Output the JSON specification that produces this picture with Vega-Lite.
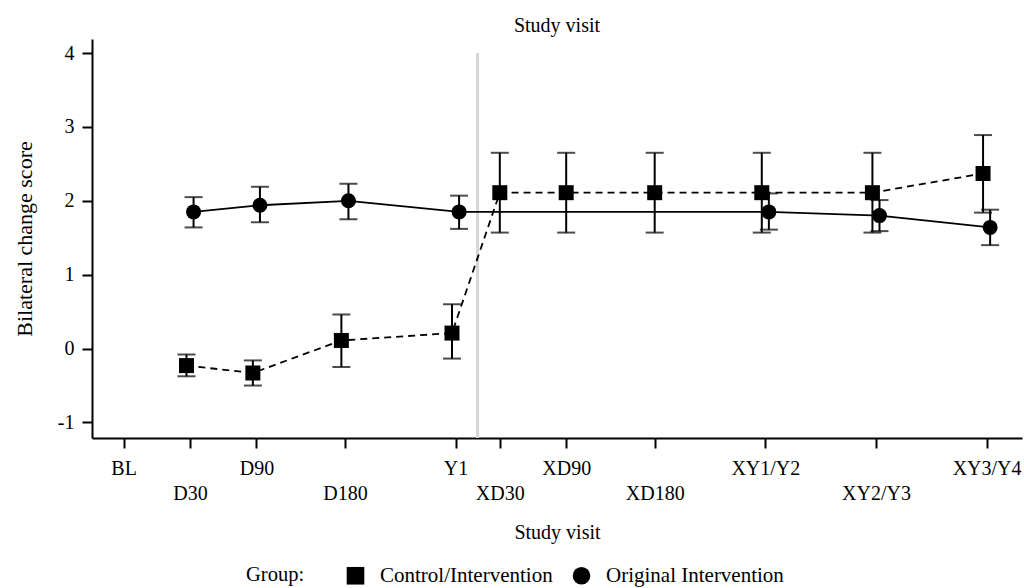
{
  "$schema": "https://vega.github.io/schema/vega-lite/v6.json",
  "autosize": "none",
  "width": 930,
  "height": 399,
  "padding": {"left": 92, "top": 39, "right": 2, "bottom": 150},
  "background": "white",
  "title": {"text": "Study visit", "font": "Liberation Serif", "fontSize": 20, "fontWeight": "normal", "color": "black", "offset": 3, "anchor": "middle"},
  "config": {
    "view": {"stroke": null},
    "axis": {
      "labelFont": "Liberation Serif", "labelFontSize": 20, "labelColor": "black",
      "titleFont": "Liberation Serif", "titleFontSize": 20, "titleFontWeight": "normal", "titleColor": "black",
      "domainColor": "black", "domainWidth": 2, "tickColor": "black", "tickWidth": 2, "tickSize": 10, "grid": false
    },
    "legend": {"labelFont": "Liberation Serif", "titleFont": "Liberation Serif"}
  },
  "data": {
    "values": [
      {"visit": "D30", "t": 3, "group": "Control/Intervention", "mean": -0.23, "lo": -0.375, "hi": -0.08},
      {"visit": "D90", "t": 6, "group": "Control/Intervention", "mean": -0.33, "lo": -0.5, "hi": -0.16},
      {"visit": "D180", "t": 10, "group": "Control/Intervention", "mean": 0.11, "lo": -0.25, "hi": 0.46},
      {"visit": "Y1", "t": 15, "group": "Control/Intervention", "mean": 0.21, "lo": -0.135, "hi": 0.6},
      {"visit": "XD30", "t": 17, "group": "Control/Intervention", "mean": 2.11, "lo": 1.57, "hi": 2.65},
      {"visit": "XD90", "t": 20, "group": "Control/Intervention", "mean": 2.11, "lo": 1.57, "hi": 2.65},
      {"visit": "XD180", "t": 24, "group": "Control/Intervention", "mean": 2.11, "lo": 1.57, "hi": 2.65},
      {"visit": "XY1/Y2", "t": 29, "group": "Control/Intervention", "mean": 2.11, "lo": 1.57, "hi": 2.65},
      {"visit": "XY2/Y3", "t": 34, "group": "Control/Intervention", "mean": 2.11, "lo": 1.57, "hi": 2.65},
      {"visit": "XY3/Y4", "t": 39, "group": "Control/Intervention", "mean": 2.37, "lo": 1.84, "hi": 2.89},
      {"visit": "D30", "t": 3, "group": "Original Intervention", "mean": 1.85, "lo": 1.64, "hi": 2.05},
      {"visit": "D90", "t": 6, "group": "Original Intervention", "mean": 1.94, "lo": 1.71, "hi": 2.19},
      {"visit": "D180", "t": 10, "group": "Original Intervention", "mean": 2.0, "lo": 1.75, "hi": 2.23},
      {"visit": "Y1", "t": 15, "group": "Original Intervention", "mean": 1.85, "lo": 1.62, "hi": 2.07},
      {"visit": "XY1/Y2", "t": 29, "group": "Original Intervention", "mean": 1.85, "lo": 1.61, "hi": 2.1},
      {"visit": "XY2/Y3", "t": 34, "group": "Original Intervention", "mean": 1.8, "lo": 1.59, "hi": 2.01},
      {"visit": "XY3/Y4", "t": 39, "group": "Original Intervention", "mean": 1.64, "lo": 1.4, "hi": 1.88}
    ]
  },
  "transform": [
    {"joinaggregate": [{"op": "count", "as": "n"}], "groupby": ["t"]},
    {"calculate": "datum.t + (datum.n > 1 ? (datum.group == 'Control/Intervention' ? -0.16 : 0.16) : 0)", "as": "xd"}
  ],
  "encoding": {
    "x": {
      "field": "xd", "type": "quantitative",
      "scale": {"domain": [-1.43, 40.6], "nice": false, "zero": false},
      "axis": {
        "title": "Study visit", "titlePadding": 19,
        "values": [0, 3, 6, 10, 15, 17, 20, 24, 29, 34, 39],
        "labelExpr": "{'0': 'BL', '3': 'D30', '6': 'D90', '10': 'D180', '15': 'Y1', '17': 'XD30', '20': 'XD90', '24': 'XD180', '29': 'XY1/Y2', '34': 'XY2/Y3', '39': 'XY3/Y4'}[datum.value + '']",
        "labelPadding": {"condition": {"test": "indexof([3, 10, 17, 24, 34], datum.value) >= 0", "value": 35}, "value": 10},
        "labelFlush": false, "labelOverlap": false
      }
    },
    "y": {
      "field": "mean", "type": "quantitative",
      "scale": {"domain": [-1.21, 4.19], "nice": false, "zero": false},
      "axis": {"title": "Bilateral change score", "titleFontSize": 22, "values": [-1, 0, 1, 2, 3, 4], "labelExpr": "datum.value + ''", "labelPadding": 8, "titlePadding": 21}
    }
  },
  "layer": [
    {
      "mark": {"type": "rule", "color": "#d6d6d6", "strokeWidth": 2},
      "encoding": {"x": {"datum": 16}, "y": {"datum": 4}, "y2": {"datum": -1.21}}
    },
    {
      "mark": {"type": "rule", "color": "black", "strokeWidth": 2},
      "encoding": {"y": {"field": "lo", "type": "quantitative"}, "y2": {"field": "hi"}}
    },
    {
      "mark": {"type": "tick", "orient": "horizontal", "color": "black", "size": 18, "thickness": 2},
      "encoding": {"y": {"field": "lo", "type": "quantitative"}}
    },
    {
      "mark": {"type": "tick", "orient": "horizontal", "color": "black", "size": 18, "thickness": 2},
      "encoding": {"y": {"field": "hi", "type": "quantitative"}}
    },
    {
      "transform": [{"filter": "datum.group == 'Control/Intervention'"}],
      "mark": {"type": "line", "color": "black", "strokeWidth": 1.8, "strokeDash": [7, 5]},
      "encoding": {}
    },
    {
      "transform": [{"filter": "datum.group == 'Original Intervention'"}],
      "mark": {"type": "line", "color": "black", "strokeWidth": 1.8},
      "encoding": {}
    },
    {
      "mark": {"type": "point", "filled": true, "color": "black", "opacity": 1, "size": 225},
      "encoding": {
        "shape": {
          "field": "group", "type": "nominal",
          "scale": {"domain": ["Control/Intervention", "Original Intervention"], "range": ["square", "circle"]},
          "legend": {
            "title": "Group:", "orient": "none", "direction": "horizontal",
            "legendX": 154, "legendY": 526,
            "titleOrient": "left", "titleFontSize": 20.5, "titleFontWeight": "normal", "titleColor": "black", "titlePadding": 40,
            "labelFontSize": 21, "labelColor": "black", "labelOffset": 14, "labelLimit": 400,
            "symbolSize": 310, "symbolFillColor": "black", "symbolStrokeWidth": 0,
            "columnPadding": 18
          }
        }
      }
    }
  ]
}
